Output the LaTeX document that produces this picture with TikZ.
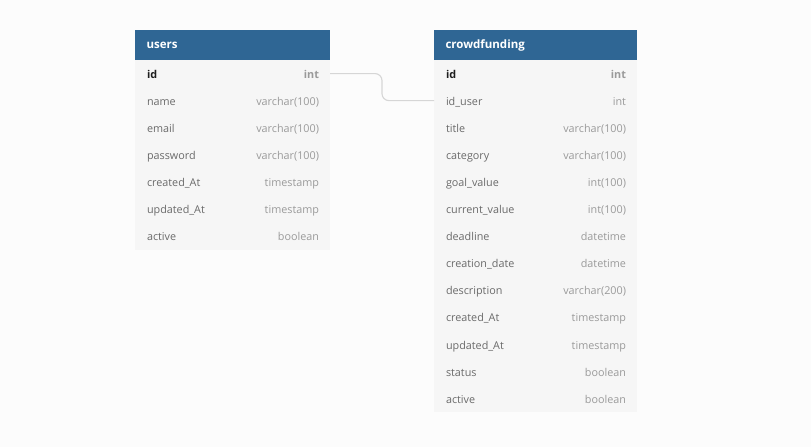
\documentclass[tikz,border=0pt]{standalone}
\usepackage{fontspec}
\setmainfont{Open Sans}
\usepackage{xcolor}
\usetikzlibrary{positioning}

\definecolor{hdrblue}{HTML}{2F6694}
\definecolor{rowgray}{HTML}{F6F6F6}
\definecolor{bggray}{HTML}{FCFCFC}
\definecolor{fldgray}{HTML}{6A6A6A}
\definecolor{typgray}{HTML}{9A9A9A}
\definecolor{keyblack}{HTML}{1E1E1E}
\definecolor{linkgray}{HTML}{D6D6D6}

\newcommand{\fieldrow}[2]{\hspace*{0.5pt}#1\hspace{0pt plus 1filll}\textcolor{typgray}{#2}\hspace*{-0.5pt}}

\begin{document}
\begin{tikzpicture}[
		x=1pt, y=-1pt,
		table/.style={rectangle, fill=hdrblue, text=white, text width=#1, minimum height=30pt, inner xsep=11.5pt, inner ysep=0pt, outer sep=0pt, align=left, anchor=north west, font=\fontsize{11.5}{13}\selectfont\bfseries},
		row/.style={rectangle, fill=rowgray, text=fldgray, text width=#1, text height=11pt, text depth=2pt, minimum height=27.1pt, inner xsep=11.5pt, inner ysep=0pt, outer sep=0pt, align=left, font=\fontsize{10.8}{12}\selectfont},
		keyrow/.style={row=#1, text=keyblack},
		link/.style={draw=linkgray, line width=1.1pt, rounded corners=7pt}
		]
		
		% Background
		\fill[bggray] (0,0) rectangle (811,447);
		
		% users
		\node[table=172pt] (users-0) at (135,30) {users};
		\node[keyrow=172pt, below=0pt of users-0] (users-1) {\fieldrow{\textbf{id}}{\textbf{int}}};
		\foreach \fld/\typ [count=\i from 2, remember=\i as \j (initially 1)] in
			{name/varchar(100), email/varchar(100), password/varchar(100),
			 created\_At/timestamp, updated\_At/timestamp, active/boolean}
			\node[row=172pt, below=0pt of users-\j] (users-\i) {\fieldrow{\fld}{\typ}};
		
		% crowdfunding
		\node[table=180pt] (cf-0) at (434,30) {crowdfunding};
		\node[keyrow=180pt, below=0pt of cf-0] (cf-1) {\fieldrow{\textbf{id}}{\textbf{int}}};
		\foreach \fld/\typ [count=\i from 2, remember=\i as \j (initially 1)] in
			{id\_user/int, title/varchar(100), category/varchar(100),
			 goal\_value/int(100), current\_value/int(100), deadline/datetime,
			 creation\_date/datetime, description/varchar(200),
			 created\_At/timestamp, updated\_At/timestamp, status/boolean, active/boolean}
			\node[row=180pt, below=0pt of cf-\j] (cf-\i) {\fieldrow{\fld}{\typ}};
		
		% Relation
		\coordinate (bend) at (382,87);
		\draw[link] (users-1.east) -| (bend) |- (cf-2.west);
		
	\end{tikzpicture}
\end{document}
